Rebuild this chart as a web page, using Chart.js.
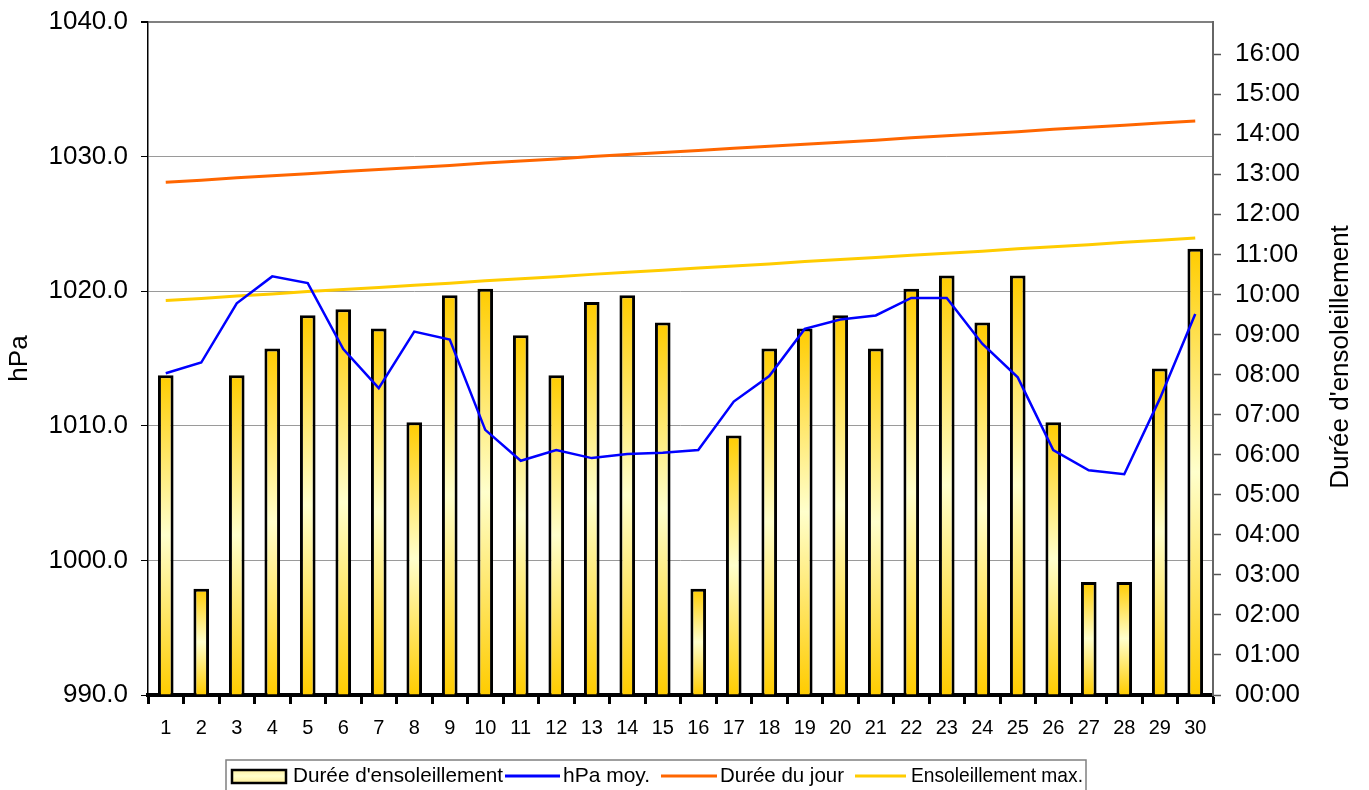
<!DOCTYPE html>
<html>
<head>
<meta charset="utf-8">
<script src="https://cdn.jsdelivr.net/npm/chart.js@4.4.1/dist/chart.umd.min.js"></script>
<style>
  html, body { margin: 0; padding: 0; background: #fff; }
  #wrap { width: 1369px; height: 790px; position: relative; }
</style>
</head>
<body>
<div id="wrap"><canvas id="c" width="1369" height="790"></canvas></div>
<script>
// ---- data ----
const days = ['1','2','3','4','5','6','7','8','9','10','11','12','13','14','15','16','17','18','19','20','21','22','23','24','25','26','27','28','29','30'];
// sunshine duration in hours
const sunshine = [7.98, 2.65, 7.98, 8.65, 9.48, 9.63, 9.15, 6.81, 9.98, 10.14, 8.98, 7.98, 9.81, 9.98, 9.30, 2.65, 6.48, 8.65, 9.15, 9.48, 8.65, 10.14, 10.47, 9.30, 10.47, 6.81, 2.82, 2.82, 8.15, 11.14];
// mean pressure hPa
const pressure = [1013.9, 1014.7, 1019.1, 1021.1, 1020.6, 1015.7, 1012.8, 1017.0, 1016.4, 1009.7, 1007.4, 1008.2, 1007.6, 1007.9, 1008.0, 1008.2, 1011.8, 1013.7, 1017.2, 1017.9, 1018.2, 1019.5, 1019.5, 1016.1, 1013.6, 1008.2, 1006.7, 1006.4, 1012.0, 1018.3];
// day length in hours
const dayLength = [12.80, 12.85, 12.91, 12.96, 13.01, 13.07, 13.12, 13.17, 13.22, 13.28, 13.33, 13.38, 13.44, 13.49, 13.54, 13.59, 13.65, 13.70, 13.75, 13.80, 13.85, 13.91, 13.96, 14.01, 14.06, 14.12, 14.17, 14.22, 14.28, 14.33];
// max possible sunshine in hours
const maxSunshine = [9.85, 9.90, 9.96, 10.01, 10.07, 10.12, 10.17, 10.23, 10.28, 10.34, 10.39, 10.44, 10.50, 10.55, 10.60, 10.66, 10.71, 10.76, 10.82, 10.87, 10.92, 10.98, 11.03, 11.08, 11.14, 11.19, 11.24, 11.30, 11.35, 11.41];
const leftTicks = { min: 990, max: 1040, step: 10 };
const rightTicks = { min: 0, max: 16.8, step: 1 };
const labels = ["Durée d'ensoleillement", 'hPa moy.', 'Durée du jour', 'Ensoleillement max.'];
const rightTitle = "Durée d'ensoleillement";
const leftTitle = 'hPa';

const FONT = "'Liberation Sans', Arial, sans-serif";

function barGradient(ctx) {
  const chart = ctx.chart;
  if (ctx.type !== 'data' || !chart.chartArea || !chart.scales.y2) return '#FFE680';
  const s = chart.scales.y2;
  const top = s.getPixelForValue(ctx.raw);
  const bot = s.getPixelForValue(0);
  if (!isFinite(top) || !isFinite(bot) || bot - top < 1) return '#FFE680';
  const g = chart.ctx.createLinearGradient(0, top, 0, bot);
  g.addColorStop(0, '#FFCC00');
  g.addColorStop(0.5, '#FFFFCC');
  g.addColorStop(1, '#FFCC00');
  return g;
}

const extras = {
  id: 'extras',
  afterDraw(chart) {
    const c = chart.ctx;
    // right axis title (reads bottom to top)
    c.save();
    c.fillStyle = '#000';
    c.font = '26px ' + FONT;
    c.textAlign = 'center';
    c.textBaseline = 'middle';
    c.translate(1341, 357);
    c.rotate(-Math.PI / 2);
    c.fillText(rightTitle, 0, 0);
    c.restore();

    // legend
    c.save();
    c.strokeStyle = '#808080';
    c.lineWidth = 1.5;
    c.strokeRect(226, 760, 860, 32);
    const cy = 776;
    c.font = '21px ' + FONT;
    c.textBaseline = 'middle';
    c.textAlign = 'left';
    // bar swatch
    const g = c.createLinearGradient(0, 769, 0, 783);
    g.addColorStop(0, '#FFEE99'); g.addColorStop(0.5, '#FFFFCC'); g.addColorStop(1, '#FFEE99');
    c.fillStyle = g;
    c.fillRect(232, 770, 54, 13);
    c.strokeStyle = '#000';
    c.lineWidth = 2.5;
    c.strokeRect(232, 770, 54, 13);
    c.fillStyle = '#000';
    c.fillText(labels[0], 293, cy, 210);
    const lineItem = (x1, x2, color, tx, text, w) => {
      c.strokeStyle = color; c.lineWidth = 3;
      c.beginPath(); c.moveTo(x1, cy); c.lineTo(x2, cy); c.stroke();
      c.fillStyle = '#000';
      c.fillText(text, tx, cy, w);
    };
    lineItem(505, 560, '#0000FF', 563, labels[1], 93);
    lineItem(661, 717, '#FF6600', 720, labels[2], 124);
    lineItem(855, 906, '#FFCC00', 911, labels[3], 172);
    c.restore();
  }
};

function noVPad(s) { s.paddingTop = 0; s.paddingBottom = 0; }

new Chart(document.getElementById('c'), {
  type: 'bar',
  data: {
    labels: days,
    datasets: [
      {
        type: 'line', label: labels[1], data: pressure, yAxisID: 'y',
        borderColor: '#0000FF', borderWidth: 2.5, pointRadius: 0, tension: 0, order: 1
      },
      {
        type: 'line', label: labels[2], data: dayLength, yAxisID: 'y2',
        borderColor: '#FF6600', borderWidth: 3, pointRadius: 0, tension: 0, order: 1
      },
      {
        type: 'line', label: labels[3], data: maxSunshine, yAxisID: 'y2',
        borderColor: '#FFCC00', borderWidth: 3, pointRadius: 0, tension: 0, order: 1
      },
      {
        type: 'bar', label: labels[0], data: sunshine, yAxisID: 'y2',
        backgroundColor: barGradient, borderColor: '#000', borderWidth: 3,
        categoryPercentage: 0.5, barPercentage: 0.88, order: 2
      }
    ]
  },
  options: {
    responsive: false,
    animation: false,
    layout: { padding: { top: 22, left: 0, right: 0, bottom: 40 } },
    plugins: { legend: { display: false }, tooltip: { enabled: false } },
    scales: {
      x: {
        position: 'bottom',
        grid: { display: true, drawOnChartArea: false, drawTicks: true, tickLength: 9, tickWidth: 3, tickColor: '#000', color: '#000', offset: true },
        border: { display: true, color: '#000', width: 4 },
        ticks: { color: '#000', font: { family: FONT, size: 20 }, padding: 12, maxRotation: 0, autoSkip: false },
        afterFit(s) { s.height = 55; }
      },
      y: {
        position: 'left',
        min: leftTicks.min, max: leftTicks.max,
        grid: {
          color: (ctx) => ctx.tick && ctx.tick.value === leftTicks.max ? '#808080' : '#9a9a9a',
          lineWidth: (ctx) => ctx.tick && ctx.tick.value === leftTicks.max ? 2 : 1,
          tickColor: '#000', tickLength: 7, drawTicks: true
        },
        border: { display: true, color: '#000', width: 1.5 },
        ticks: {
          stepSize: leftTicks.step, color: '#000', padding: 13,
          font: { family: FONT, size: 26 },
          callback: (v) => Number(v).toFixed(1)
        },
        title: { display: true, text: leftTitle, color: '#000', font: { family: FONT, size: 26 }, padding: { top: 4, bottom: 0 } },
        afterFit(s) { s.width = 148; noVPad(s); }
      },
      y2: {
        position: 'right',
        min: rightTicks.min, max: rightTicks.max,
        grid: { drawOnChartArea: false, drawTicks: true, tickLength: 8, tickColor: '#555', tickWidth: 1.5 },
        border: { display: true, color: '#666', width: 2 },
        ticks: {
          stepSize: rightTicks.step, includeBounds: false, color: '#000', padding: 14,
          font: { family: FONT, size: 26 },
          callback: (v) => {
            const h = Math.round(v);
            return (h < 10 ? '0' + h : '' + h) + ':00';
          }
        },
        afterFit(s) { s.width = 156; noVPad(s); }
      }
    }
  },
  plugins: [extras]
});
</script>
</body>
</html>
